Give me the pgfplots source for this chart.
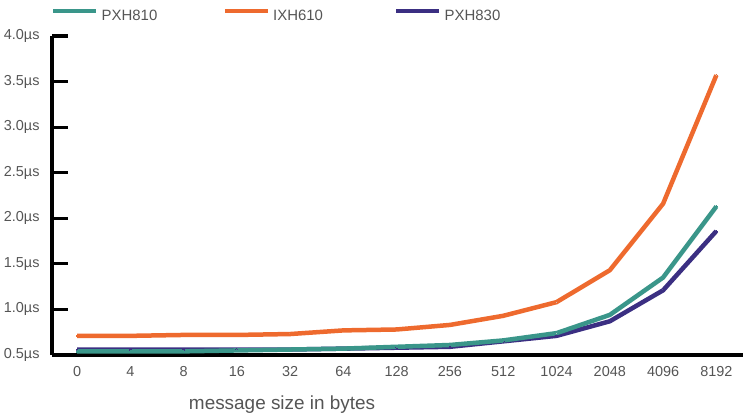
\documentclass[border=0pt]{standalone}
\usepackage{fontspec}
\setmainfont{Liberation Sans}
\usepackage{pgfplots}
\pgfplotsset{compat=1.18}
\definecolor{cteal}{HTML}{3A968A}
\definecolor{corange}{HTML}{EE6A2E}
\definecolor{cpurple}{HTML}{3B2F82}
\definecolor{labgray}{HTML}{555555}
\definecolor{dotgray}{HTML}{C8C8C8}
\begin{document}
\begin{tikzpicture}
\path[use as bounding box] (0,0) rectangle (751bp,418bp);
\begin{axis}[
  at={(52bp,63bp)}, anchor=south west,
  scale only axis, width=691bp, height=319bp,
  xmin=-0.47, xmax=12.5, ymin=0.5, ymax=4.0,
  clip=false,
  axis x line*=bottom, axis y line*=left,
  axis line style={line width=3.2bp, black, -},
  xtick={0,...,12},
  xticklabels={0,4,8,16,32,64,128,256,512,1024,2048,4096,8192},
  ytick={0.5,1.0,1.5,2.0,2.5,3.0,3.5,4.0},
  yticklabels={0.5µs,1.0µs,1.5µs,2.0µs,2.5µs,3.0µs,3.5µs,4.0µs},
  x tick style={draw=none},
  y tick style={line width=3.2bp, black},
  tick align=inside, major tick length=16bp,
  tick label style={font=\fontsize{14.5}{16}\selectfont, text=labgray},
  xticklabel style={yshift=-8bp},
  yticklabel style={xshift=-9bp},
  xlabel={message size in bytes},
  xlabel style={at={(axis description cs:0.333,0)}, anchor=north, yshift=-37bp, font=\fontsize{19}{21}\selectfont, text=labgray},
  legend columns=3,
  legend style={at={(axis description cs:0,1)}, anchor=south west, yshift=14bp, xshift=-1bp,
    draw=none, fill=none, inner sep=0pt, column sep=0pt,
    nodes={inner sep=0pt}, font=\fontsize{15}{17}\selectfont, text=labgray},
  legend image code/.code={\draw[#1, yshift=5bp, mark repeat=2, mark phase=2] plot coordinates {(0bp,0bp) (21.5bp,0bp) (43bp,0bp)};},
  mk/.style={line width=4.5bp, line join=round, mark=*, mark size=0.9bp, mark options={fill=dotgray, draw=none, line width=0pt}},
]
\addlegendimage{cteal, mk}
\addlegendentry{\hspace*{3bp}\makebox[121bp][l]{PXH810}}
\addlegendimage{corange, mk}
\addlegendentry{\hspace*{3bp}\makebox[121bp][l]{IXH610}}
\addlegendimage{cpurple, mk}
\addlegendentry{\hspace*{3bp}\makebox[121bp][l]{PXH830}}

\addplot[corange, mk, forget plot] coordinates {
(0,0.71) (1,0.71) (2,0.72) (3,0.72) (4,0.73) (5,0.77) (6,0.78) (7,0.83) (8,0.93) (9,1.08) (10,1.43) (11,2.16) (12,3.57)};
\addplot[cpurple, mk, forget plot] coordinates {
(0,0.56) (1,0.56) (2,0.56) (3,0.56) (4,0.56) (5,0.57) (6,0.58) (7,0.59) (8,0.65) (9,0.71) (10,0.87) (11,1.21) (12,1.86)};
\addplot[cteal, mk, forget plot] coordinates {
(0,0.54) (1,0.54) (2,0.54) (3,0.55) (4,0.56) (5,0.57) (6,0.59) (7,0.61) (8,0.66) (9,0.74) (10,0.94) (11,1.35) (12,2.13)};
\end{axis}
\end{tikzpicture}
\end{document}
